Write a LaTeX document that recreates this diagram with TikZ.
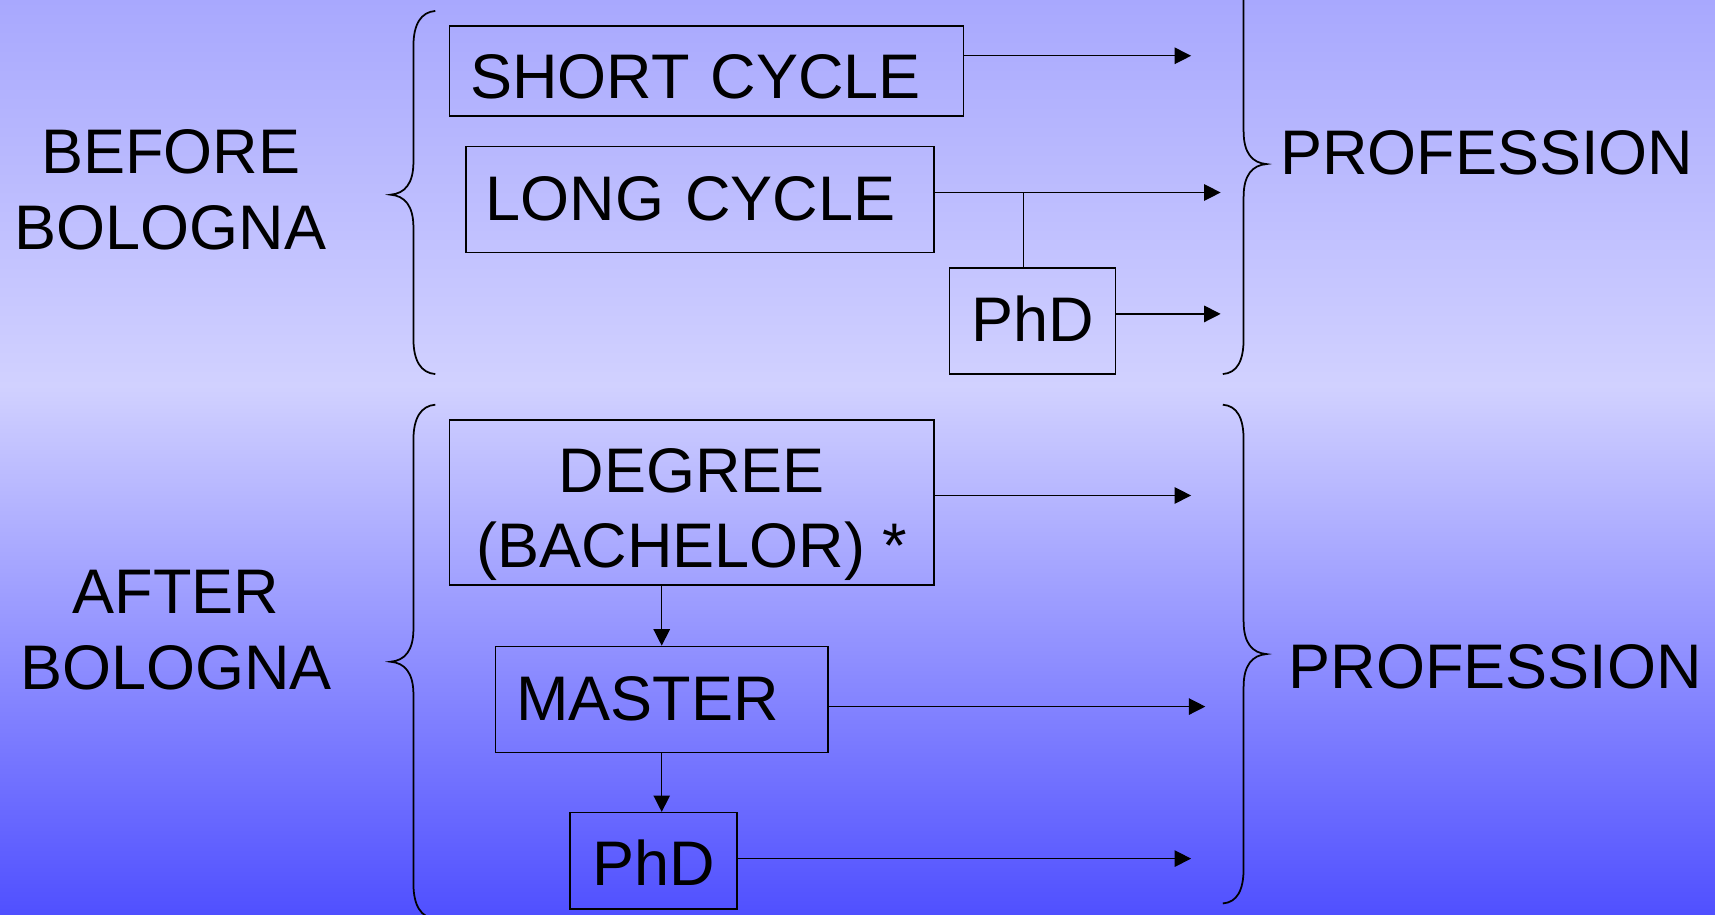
\documentclass[tikz,border=0pt]{standalone}
\usepackage{fontspec}
\setmainfont{Liberation Sans}
\usetikzlibrary{arrows.meta}
\definecolor{bgtop}{RGB}{168,168,254}
\definecolor{bgmid}{RGB}{209,209,255}
\definecolor{bgbot}{RGB}{80,80,255}
\pgfdeclareverticalshading{bgshade}{100bp}{color(0bp)=(bgbot); color(25bp)=(bgbot); color(53.9bp)=(bgmid); color(75bp)=(bgtop); color(100bp)=(bgtop)}
\tikzset{
  big/.style={font=\fontsize{28.8}{35}\selectfont},
  boxnode/.style={draw=black, line width=0.7pt, inner sep=0pt, big, text depth=0pt},
  leftbox/.style={boxnode, align=left},
  conn/.style={line width=0.6pt, draw=black},
  arr/.style={conn, -{Triangle[length=7.5pt,width=7.5pt]}},
  bracestroke/.style={line width=0.8pt, draw=black},
  lbl/.style={inner sep=0pt, big, align=center}
}
\begin{document}
\begin{tikzpicture}[x=0.5pt,y=-0.5pt]
\useasboundingbox (0,0) rectangle (1568,836);
\shade[shading=bgshade] (0,0) rectangle (1568,836);
\clip (0,0) rectangle (1568,836);

% left labels
\node[lbl] (before) at (156,173.5) {BEFORE\\BOLOGNA};
\node[lbl] (after) at (161,576) {AFTER\\BOLOGNA};
\node[inner sep=0pt, big, anchor=west] (prof1) at (1170,140) {PROFESSION};
\node[inner sep=0pt, big, anchor=west] (prof2) at (1178,610) {PROFESSION};

% braces
\draw[bracestroke] (398,10) .. controls (385,11) and (378,22) .. (378,42)
  -- (378,148) .. controls (378,168) and (370,177) .. (357,178)
  .. controls (370,179) and (378,188) .. (378,208)
  -- (378,310) .. controls (378,330) and (385,341) .. (398,342);
\draw[bracestroke] (398,370) .. controls (385,371) and (378,382) .. (378,402)
  -- (378,575) .. controls (378,595) and (370,604) .. (357,605)
  .. controls (370,606) and (378,615) .. (378,635)
  -- (378,808) .. controls (378,828) and (385,839) .. (398,840);
\draw[bracestroke] (1118,-42) .. controls (1131,-41) and (1137,-30) .. (1137,-10)
  -- (1137,120) .. controls (1137,140) and (1145,149) .. (1158,150)
  .. controls (1145,151) and (1137,160) .. (1137,180)
  -- (1137,310) .. controls (1137,330) and (1131,341) .. (1118,342);
\draw[bracestroke] (1118,370) .. controls (1131,371) and (1137,382) .. (1137,402)
  -- (1137,568) .. controls (1137,588) and (1145,597) .. (1158,598)
  .. controls (1145,599) and (1137,608) .. (1137,628)
  -- (1137,794) .. controls (1137,814) and (1131,825) .. (1118,826);

% boxes
\node[leftbox, minimum width=235pt, minimum height=41pt, inner xsep=9.5pt, text width=216pt, text height=25pt] (sc) at (646,65) {SHORT CYCLE};
\node[leftbox, minimum width=214pt, minimum height=48.5pt, inner xsep=9pt, text width=196pt, text height=19.5pt] (lc) at (640,182.5) {LONG CYCLE};
\node[boxnode, minimum width=76pt, minimum height=48.5pt, text height=18.5pt] (phda) at (944,293.5) {PhD};
\node[boxnode, minimum width=221.5pt, minimum height=75.5pt, text height=59.5pt] (deg) at (632.5,459.5)
  {\fontsize{28.8}{34.5}\selectfont\begin{tabular}[b]{@{}c@{}}DEGREE\\(BACHELOR) *\end{tabular}};
\node[leftbox, minimum width=152pt, minimum height=48.5pt, inner xsep=9.5pt, text width=133pt, text height=19.5pt] (ma) at (605,639.5) {MASTER};
\node[boxnode, minimum width=76.5pt, minimum height=44pt, text height=23pt] (phdb) at (597.5,787) {PhD};

% free ends
\coordinate (t1) at (1089,51);
\coordinate (t2) at (1116,176);
\coordinate (j) at (936,176);
\coordinate (t3) at (1116,287);
\coordinate (t4) at (1089,453);
\coordinate (t5) at (1102,646);
\coordinate (t6) at (1089,785);

% connectors
\draw[arr] (sc.east |- t1) -- (t1);
\draw[arr] (lc.east |- t2) -- (t2);
\draw[conn] (j) -- (j |- phda.north);
\draw[arr] (phda.east |- t3) -- (t3);
\draw[arr] (deg.east |- t4) -- (t4);
\draw[arr] (ma.north |- deg.south) -- (ma.north);
\draw[arr] (ma.east |- t5) -- (t5);
\draw[arr] (ma.south) -- (ma.south |- phdb.north);
\draw[arr] (phdb.east |- t6) -- (t6);
\end{tikzpicture}
\end{document}
